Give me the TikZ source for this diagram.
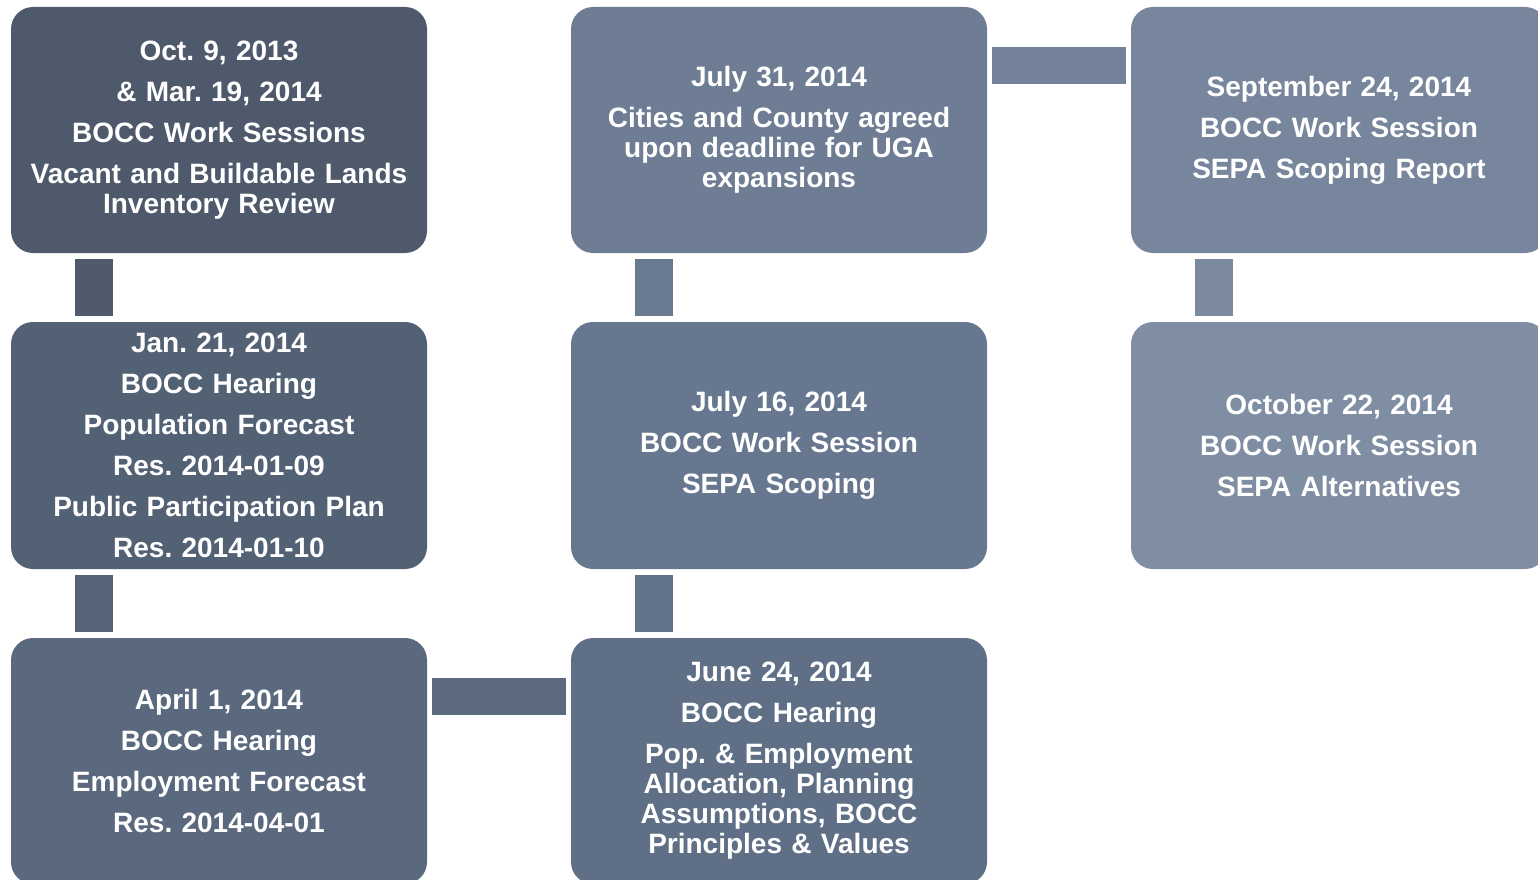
\documentclass[tikz,border=0pt]{standalone}
\usepackage{fontspec}
\setmainfont{Liberation Sans}
\definecolor{cA}{HTML}{4E5A6B}
\definecolor{cB}{HTML}{536175}
\definecolor{cC}{HTML}{5A697D}
\definecolor{cD}{HTML}{5F7086}
\definecolor{cE}{HTML}{67778F}
\definecolor{cF}{HTML}{6E7D94}
\definecolor{cG}{HTML}{77869C}
\definecolor{cH}{HTML}{808EA3}
\definecolor{kA}{HTML}{4F5B6C}
\definecolor{kB}{HTML}{566477}
\definecolor{kC}{HTML}{5B6A7E}
\definecolor{kD}{HTML}{627289}
\definecolor{kE}{HTML}{6A7A91}
\definecolor{kF}{HTML}{73829A}
\definecolor{kG}{HTML}{7C8AA0}
\frenchspacing
\tikzset{
  evbox/.style={draw=none, rounded corners=22pt, minimum width=416pt, minimum height=246pt,
    text width=410pt, align=center, text=white, inner sep=0pt,
    font=\fontsize{28pt}{30pt}\selectfont\bfseries},
  vbar/.style={line width=38pt, shorten <=6pt, shorten >=6pt},
  hbar/.style={line width=37pt, shorten <=5pt, shorten >=5pt}
}
\begin{document}
\begin{tikzpicture}[x=1pt,y=-1pt]
\useasboundingbox (0,0) rectangle (1538,880);
\clip (0,0) rectangle (1538,880);
\node[evbox, fill=cA] (b1) at (219,130) {Oct. 9, 2013\\[11pt] \& Mar. 19, 2014\\[11pt] BOCC Work Sessions\\[11pt] Vacant and Buildable Lands\\ Inventory Review};
\node[evbox, fill=cB, minimum height=247pt] (b2) at (219,445.5) {Jan. 21, 2014\\[11pt] BOCC Hearing\\[11pt] Population Forecast\\[11pt] Res. 2014-01-09\\[11pt] Public Participation Plan\\[11pt] Res. 2014-01-10};
\node[evbox, fill=cC] (b3) at (219,761) {April 1, 2014\\[11pt] BOCC Hearing\\[11pt] Employment Forecast\\[11pt] Res. 2014-04-01};
\node[evbox, fill=cD] (b4) at (779,761) {June 24, 2014\\[11pt] BOCC Hearing\\[11pt] Pop. \& Employment\\ Allocation, Planning\\ Assumptions, BOCC\\ Principles \& Values};
\node[evbox, fill=cE, minimum height=247pt] (b5) at (779,445.5) {July 16, 2014\\[11pt] BOCC Work Session\\[11pt] SEPA Scoping};
\node[evbox, fill=cF] (b6) at (779,130) {July 31, 2014\\[11pt] Cities and County agreed\\ upon deadline for UGA\\ expansions};
\node[evbox, fill=cG] (b7) at (1339,130) {September 24, 2014\\[11pt] BOCC Work Session\\[11pt] SEPA Scoping Report};
\node[evbox, fill=cH, minimum height=247pt] (b8) at (1339,445.5) {October 22, 2014\\[11pt] BOCC Work Session\\[11pt] SEPA Alternatives};
\draw[vbar, kA] ([xshift=83pt]b1.south west) -- ([xshift=83pt]b2.north west);
\draw[vbar, kB] ([xshift=83pt]b2.south west) -- ([xshift=83pt]b3.north west);
\draw[hbar, kC] ([yshift=-58.5pt]b3.north east) -- ([yshift=-58.5pt]b4.north west);
\draw[vbar, kD] ([xshift=83pt]b4.north west) -- ([xshift=83pt]b5.south west);
\draw[vbar, kE] ([xshift=83pt]b5.north west) -- ([xshift=83pt]b6.south west);
\draw[hbar, kF] ([yshift=-58.5pt]b6.north east) -- ([yshift=-58.5pt]b7.north west);
\draw[vbar, kG] ([xshift=83pt]b7.south west) -- ([xshift=83pt]b8.north west);
\end{tikzpicture}
\end{document}
